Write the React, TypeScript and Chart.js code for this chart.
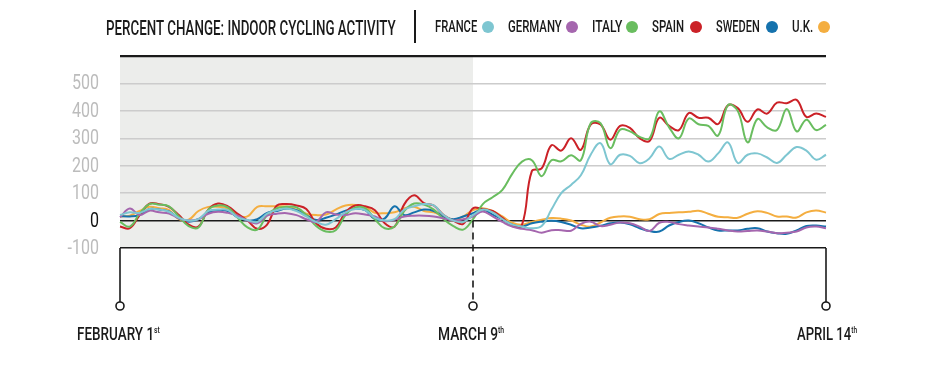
import React, { useEffect, useLayoutEffect, useRef, useState } from "react";
import { Chart, registerables } from "chart.js";

Chart.register(...registerables);

// ---- Data (percent change, daily, Feb 1 -> Apr 14) ----
const MONTH_SPANS: [string, number, number][] = [
  ["Feb", 1, 28],
  ["Mar", 1, 31],
  ["Apr", 1, 14],
];
const dayLabels: string[] = [];
for (const [m, a, b] of MONTH_SPANS) for (let d = a; d <= b; d++) dayLabels.push(`${m} ${d}`);

const SPLIT_INDEX = 36; // March 9th

const franceValues = [
  20, 30, 28, 42, 40, 32, 10, 0, 5, 35, 40, 38, 12, 2, -5, 25, 38, 44, 35, 15,
  -5, -15, 5, 30, 42, 38, 10, 0, 5, 40, 52, 60, 55, 20, 0, -5, 20, 40, 30, 5,
  -15, -22, -28, -20, 40, 100, 130, 165, 240, 282, 205, 240, 236, 209, 227, 270,
  225, 240, 252, 240, 215, 245, 285, 210, 240, 245, 230, 210, 240, 268, 255, 222, 240,
];
const germanyValues = [
  12, 44, 20, 36, 30, 26, 8, 0, 5, 25, 32, 28, 18, 0, -10, 18, 25, 27, 20, 5,
  -5, 30, 22, 20, 27, 22, 15, -2, 3, 15, 18, 18, 15, 8, 0, 5, 15, 33, 15, -5,
  -22, -30, -35, -44, -35, -35, -37, -12, -4, -20, -15, -7, -10, -22, -38, -8,
  -5, -13, -18, -22, -25, -30, -36, -40, -38, -36, -40, -46, -44, -40, -25, -22, -28,
];
const italyValues = [
  -5, -22, 25, 60, 58, 52, 15, -20, -25, 40, 55, 48, 10, -25, -33, 20, 45, 50, 48, 20,
  -20, -40, -35, 20, 48, 45, 5, -28, -22, 35, 62, 58, 40, 5, -20, -33, 5, 60, 85, 112,
  170, 215, 220, 162, 220, 216, 238, 220, 355, 355, 264, 331, 325, 305, 300, 398,
  340, 300, 372, 351, 345, 310, 421, 400, 285, 370, 340, 330, 407, 325, 368, 330, 349,
];
const spainValues = [
  -22, -28, 20, 62, 60, 50, 20, -15, -22, 40, 62, 52, 25, 0, -30, -15, 55, 60, 55, 42,
  -10, -30, -25, 30, 55, 52, 38, -10, -22, 60, 92, 64, 55, 20, 0, -12, 45, 42, 35, 10,
  -20, -15, 180, 190, 275, 255, 300, 258, 350, 350, 295, 345, 338, 300, 290, 375,
  345, 330, 392, 375, 375, 352, 420, 410, 360, 405, 390, 430, 428, 440, 378, 390, 378,
];
const swedenValues = [
  16, 15, 20, 42, 40, 33, 8, -4, 5, 30, 38, 35, 12, 0, 5, 28, 35, 44, 38, 20,
  2, 10, 22, 36, 44, 38, 5, 8, 52, 20, 30, 40, 35, 15, 5, 15, 27, 40, 22, 5,
  -15, -22, -10, -4, -1, -5, -15, -28, -25, -19, -10, -7, -14, -28, -38, -40,
  -18, -5, 0, -10, -25, -36, -36, -36, -30, -28, -40, -46, -48, -36, -20, -18, -22,
];
const ukValues = [
  15, 18, 35, 50, 45, 38, 5, 3, 35, 50, 50, 44, 18, 15, 50, 52, 52, 51, 40, 25,
  20, 22, 40, 55, 57, 50, 28, 27, 30, 45, 50, 35, 30, 15, 0, 15, 38, 45, 35, 15,
  -8, -15, -5, 3, 9, 7, 0, -15, -22, -7, 10, 15, 14, 5, 5, 24,
  28, 30, 32, 36, 25, 14, 12, 10, 25, 34, 28, 15, 15, 11, 30, 37, 29,
];

const seriesNames = ["FRANCE", "GERMANY", "ITALY", "SPAIN", "SWEDEN", "U.K."];
const seriesColors = ["#7ec6d1", "#a566ae", "#69bd5f", "#cb2127", "#1572ad", "#f4ae40"];
const seriesValues = [franceValues, germanyValues, italyValues, spainValues, swedenValues, ukValues];

const yTickValues = [-100, 0, 100, 200, 300, 400, 500, 600];
const yTickLabels = ["-100", "0", "100", "200", "300", "400", "500", ""];

// ---- layout-only constants ----
const FONT = "Roboto, 'Liberation Sans', sans-serif";

type FitProps = {
  text: string;
  sup?: string;
  x: number;
  y: number;
  w: number;
  size: number;
  color?: string;
  anchor?: "left" | "center";
  weight?: number;
};

function FitText({ text, sup, x, y, w, size, color = "#1a1a1a", anchor = "left", weight = 500 }: FitProps) {
  const ref = useRef<HTMLSpanElement>(null);
  const [k, setK] = useState(1);
  useLayoutEffect(() => {
    if (ref.current) {
      const nw = ref.current.offsetWidth;
      if (nw > 0) setK(w / nw);
    }
  }, [w, text, sup]);
  const left = anchor === "center" ? x - w / 2 : x;
  return (
    <span
      ref={ref}
      style={{
        position: "absolute",
        left,
        top: y,
        transform: `translateY(-50%) scaleX(${k})`,
        transformOrigin: "left center",
        whiteSpace: "nowrap",
        fontFamily: FONT,
        fontSize: size,
        fontWeight: weight,
        lineHeight: 1,
        color,
      }}
    >
      {text}
      {sup ? (
        <span style={{ fontSize: "0.5em", position: "relative", top: "-0.75em" }}>{sup}</span>
      ) : null}
    </span>
  );
}

const legendLayout = [
  { tx: 435, tw: 42, dot: 488 },
  { tx: 508, tw: 54, dot: 572 },
  { tx: 592, tw: 30, dot: 632 },
  { tx: 652, tw: 32, dot: 696 },
  { tx: 716, tw: 44, dot: 772 },
  { tx: 792, tw: 21, dot: 824 },
];

export default function App() {
  const canvasRef = useRef<HTMLCanvasElement>(null);

  useEffect(() => {
    if (!canvasRef.current) return;

    const shadePlugin = {
      id: "shade",
      beforeDraw(chart: any) {
        const { ctx, chartArea, scales } = chart;
        const x0 = scales.x.getPixelForValue(0);
        const x1 = scales.x.getPixelForValue(SPLIT_INDEX);
        ctx.save();
        ctx.fillStyle = "#ecedeb";
        ctx.fillRect(x0, chartArea.top, x1 - x0, chartArea.bottom - chartArea.top);
        ctx.restore();
      },
    };

    const yLabelPlugin = {
      id: "ylabels",
      afterDraw(chart: any) {
        const { ctx, scales } = chart;
        const right = scales.y.right - 21;
        ctx.save();
        ctx.font = "400 20px Roboto, sans-serif";
        ctx.textAlign = "right";
        ctx.textBaseline = "middle";
        yTickValues.forEach((v, i) => {
          const label = yTickLabels[i];
          if (!label) return;
          const py = scales.y.getPixelForValue(v);
          ctx.save();
          ctx.translate(right, py + 1);
          ctx.scale(0.8, 1);
          ctx.fillStyle = v === 0 ? "#111111" : "#bcbcbc";
          ctx.fillText(label, 0, 0);
          ctx.restore();
        });
        ctx.restore();
      },
    };

    const markerPlugin = {
      id: "markers",
      afterDraw(chart: any) {
        const { ctx, scales } = chart;
        const bottom = scales.y.getPixelForValue(-100);
        const zero = scales.y.getPixelForValue(0);
        const cy = 306;
        const r = 4;
        const idx = [0, SPLIT_INDEX, dayLabels.length - 1];
        ctx.save();
        ctx.strokeStyle = "#1a1a1a";
        ctx.lineWidth = 1.6;
        idx.forEach((i) => {
          const px = Math.round(scales.x.getPixelForValue(i));
          ctx.beginPath();
          if (i === SPLIT_INDEX) {
            ctx.setLineDash([7, 5]);
            ctx.moveTo(px, zero);
          } else {
            ctx.setLineDash([]);
            ctx.moveTo(px, bottom);
          }
          ctx.lineTo(px, cy - r);
          ctx.stroke();
          ctx.setLineDash([]);
          ctx.beginPath();
          ctx.arc(px, cy, r, 0, Math.PI * 2);
          ctx.fillStyle = "#ffffff";
          ctx.fill();
          ctx.stroke();
        });
        ctx.restore();
      },
    };

    const chart = new Chart(canvasRef.current, {
      type: "line",
      data: {
        labels: dayLabels,
        datasets: seriesNames.map((name, i) => ({
          label: name,
          data: seriesValues[i],
          borderColor: seriesColors[i],
          backgroundColor: seriesColors[i],
          borderWidth: 2,
          pointRadius: 0,
          tension: 0.4,
          fill: false,
        })),
      },
      options: {
        animation: false,
        responsive: false,
        maintainAspectRatio: false,
        devicePixelRatio: 1,
        layout: { padding: { left: 0, right: 110, top: 56, bottom: 118 } },
        plugins: {
          legend: { display: false },
          title: { display: false },
          tooltip: { enabled: false },
        },
        scales: {
          x: {
            type: "category",
            display: false,
            offset: false,
            grid: { display: false },
          },
          y: {
            type: "linear",
            min: -100,
            max: 600,
            afterFit(scale: any) {
              scale.width = 120;
            },
            afterBuildTicks(scale: any) {
              scale.ticks = yTickValues.map((v) => ({ value: v }));
            },
            border: { display: false },
            grid: {
              drawTicks: false,
              color: (c: any) =>
                c.tick && (c.tick.value === 600 || c.tick.value === 0 || c.tick.value === -100)
                  ? "#1a1a1a"
                  : "#cccccc",
              lineWidth: (c: any) =>
                c.tick && c.tick.value === 600 ? 2.2 : c.tick && (c.tick.value === 0 || c.tick.value === -100) ? 1.6 : 1.4,
            },
            ticks: { display: false },
          },
        },
      },
      plugins: [shadePlugin, yLabelPlugin, markerPlugin],
    });

    return () => chart.destroy();
  }, []);

  return (
    <div style={{ position: "absolute", left: 0, top: 0, width: 936, height: 366, background: "#ffffff" }}>
      <canvas ref={canvasRef} width={936} height={366} style={{ display: "block", width: 936, height: 366 }} />
      <FitText text="PERCENT CHANGE: INDOOR CYCLING ACTIVITY" x={106} y={28} w={290} size={20} />
      <div style={{ position: "absolute", left: 414, top: 10, width: 1.5, height: 33, background: "#1a1a1a" }} />
      {seriesNames.map((name, i) => (
        <React.Fragment key={name}>
          <FitText text={name} x={legendLayout[i].tx} y={27} w={legendLayout[i].tw} size={16} />
          <div
            style={{
              position: "absolute",
              left: legendLayout[i].dot - 6,
              top: 27 - 6,
              width: 12,
              height: 12,
              borderRadius: 6,
              background: seriesColors[i],
            }}
          />
        </React.Fragment>
      ))}
      <FitText text="FEBRUARY 1" sup="st" x={118.5} y={333} w={83} size={19} anchor="center" />
      <FitText text="MARCH 9" sup="th" x={471} y={333} w={66} size={19} anchor="center" />
      <FitText text="APRIL 14" sup="th" x={827} y={333} w={60} size={19} anchor="center" />
    </div>
  );
}
